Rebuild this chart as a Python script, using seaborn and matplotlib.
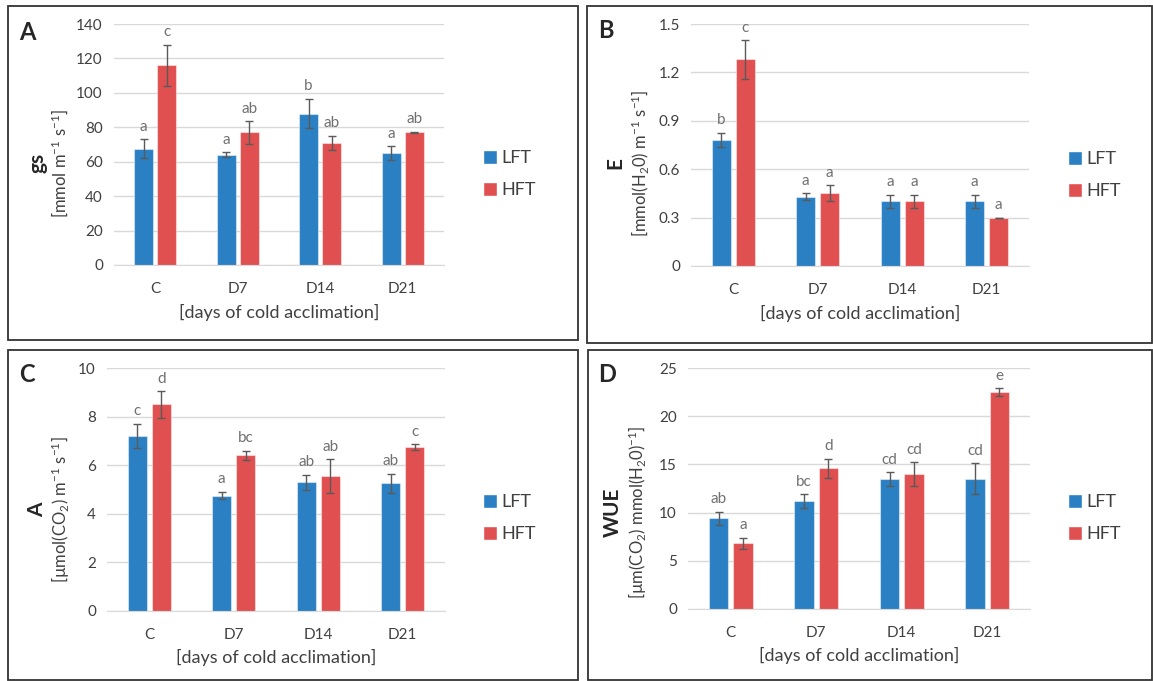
import pandas as pd
import seaborn as sns
import matplotlib.pyplot as plt
from matplotlib.patches import Rectangle
from matplotlib.lines import Line2D

# Data
days = ["C", "D7", "D14", "D21"]
groups = ["LFT", "HFT"]

gs_lft = [67.5, 64, 88, 65]
gs_hft = [116, 77, 71, 77]
gs_lft_err = [5.5, 1.5, 8.5, 4]
gs_hft_err = [12, 6.5, 4, 0.5]
gs_lft_sig = ["a", "a", "b", "a"]
gs_hft_sig = ["c", "ab", "ab", "ab"]

e_lft = [0.78, 0.43, 0.40, 0.40]
e_hft = [1.28, 0.45, 0.40, 0.30]
e_lft_err = [0.045, 0.02, 0.04, 0.04]
e_hft_err = [0.12, 0.05, 0.04, 0.0]
e_lft_sig = ["b", "a", "a", "a"]
e_hft_sig = ["c", "a", "a", "a"]

a_lft = [7.2, 4.75, 5.3, 5.25]
a_hft = [8.5, 6.4, 5.55, 6.75]
a_lft_err = [0.5, 0.15, 0.3, 0.4]
a_hft_err = [0.55, 0.2, 0.7, 0.12]
a_lft_sig = ["c", "a", "ab", "ab"]
a_hft_sig = ["d", "bc", "ab", "c"]

wue_lft = [9.4, 11.2, 13.5, 13.5]
wue_hft = [6.8, 14.6, 14.0, 22.5]
wue_lft_err = [0.7, 0.7, 0.7, 1.6]
wue_hft_err = [0.6, 1.0, 1.2, 0.4]
wue_lft_sig = ["ab", "bc", "cd", "cd"]
wue_hft_sig = ["a", "d", "cd", "e"]

colors = {"LFT": "#2a80c2", "HFT": "#e05050"}

sns.set_style("white")
plt.rcParams['font.family'] = ['Lato', 'DejaVu Sans']
plt.rcParams['mathtext.fontset'] = 'custom'
plt.rcParams['mathtext.rm'] = 'Lato'
plt.rcParams['mathtext.default'] = 'regular'

W, H = 1153, 681
fig = plt.figure(figsize=(W / 100, H / 100), dpi=100)


def px_axes(left, right, top, bottom):
    return fig.add_axes([left / W, 1 - bottom / H, (right - left) / W, (bottom - top) / H])


def panel(ax, lft, hft, lerr, herr, lsig, hsig, ymax, step, title, unit,
          letter, letter_xy, title_x, unit_x, ymid, xlabel_y, leg_xy):
    df = pd.DataFrame({"day": days * 2,
                       "group": ["LFT"] * 4 + ["HFT"] * 4,
                       "value": lft + hft})
    sns.barplot(data=df, x="day", y="value", hue="group", palette=colors,
                saturation=1, width=0.566, gap=0.19, errorbar=None, legend=False, ax=ax,
                edgecolor=(1, 1, 1, 0.45), linewidth=0.8, zorder=2)
    for cont, vals, errs, sigs in zip(ax.containers, [lft, hft], [lerr, herr], [lsig, hsig]):
        xs = [p.get_x() + p.get_width() / 2 for p in cont.patches]
        ax.errorbar(xs, vals, yerr=errs, fmt="none", ecolor="#5a5a5a",
                    elinewidth=1, capsize=3, capthick=1, zorder=3)
        for x, v, e, s in zip(xs, vals, errs, sigs):
            ax.annotate(s, (x, v + e), xytext=(0, 4), textcoords="offset points",
                        ha="center", va="bottom", fontsize=11, color="#707070")
    ax.set_ylim(0, ymax)
    ax.set_xlim(-0.5, 3.5)
    ticks = [i * step for i in range(int(round(ymax / step)) + 1)]
    ax.set_yticks(ticks)
    if step < 1:
        ax.set_yticklabels(["0"] + [f"{t:.1f}" for t in ticks[1:]])
    ax.grid(axis="y", color="#d9d9d9", linewidth=1, zorder=0)
    ax.set_axisbelow(True)
    for s in ["top", "right", "left"]:
        ax.spines[s].set_visible(False)
    ax.spines["bottom"].set_color("#d9d9d9")
    ax.tick_params(axis="both", length=0, labelsize=11, labelcolor="#404040", pad=8)
    ax.tick_params(axis="x", pad=12)
    ax.set_xlabel("")
    ax.set_ylabel("")
    fig.text(letter_xy[0] / W, 1 - letter_xy[1] / H, letter, fontsize=17,
             fontweight="bold", ha="center", va="center")
    fig.text(title_x / W, 1 - ymid / H, title, fontsize=15, fontweight="bold",
             rotation=90, ha="center", va="center")
    fig.text(unit_x / W, 1 - ymid / H, unit, fontsize=12, color="#404040",
             rotation=90, ha="center", va="center")
    axc = ax.get_position()
    fig.text(axc.x0 + axc.width / 2, 1 - xlabel_y / H, "[days of cold acclimation]",
             fontsize=13, color="#404040", ha="center", va="center")
    handles = [Line2D([], [], marker="s", linestyle="none", markersize=10,
                      markerfacecolor=colors[g], markeredgecolor="white", label=g)
               for g in groups]
    fig.legend(handles=handles, loc="center left",
               bbox_to_anchor=(leg_xy[0] / W, 1 - leg_xy[1] / H),
               frameon=False, fontsize=13, handletextpad=0.1, labelspacing=0.9,
               handlelength=1.0, labelcolor="#404040")


# Panel frames
for x0, y0, x1, y1 in [(8, 6, 578, 340), (587, 6, 1152, 343),
                       (8, 350, 578, 680), (588, 350, 1152, 680)]:
    fig.add_artist(Rectangle((x0 / W, 1 - y1 / H), (x1 - x0) / W, (y1 - y0) / H,
                             transform=fig.transFigure, fill=False,
                             edgecolor="#333333", linewidth=1.3))

axA = px_axes(114, 444, 24, 265)
panel(axA, gs_lft, gs_hft, gs_lft_err, gs_hft_err, gs_lft_sig, gs_hft_sig,
      140, 20, "gs", r"[mmol m$^{-1}$ s$^{-1}$]", "A", (27, 32), 37, 60, 163, 312, (465, 174))

axB = px_axes(691, 1029, 24, 266)
panel(axB, e_lft, e_hft, e_lft_err, e_hft_err, e_lft_sig, e_hft_sig,
      1.5, 0.3, "E", r"[mmol(H$_2$0) m$^{-1}$ s$^{-1}$]", "B", (606, 30), 615, 640, 163, 313, (1050, 175))

axC = px_axes(107, 445, 368, 611)
panel(axC, a_lft, a_hft, a_lft_err, a_hft_err, a_lft_sig, a_hft_sig,
      10, 2, "A", r"[µmol(CO$_2$) m$^{-1}$ s$^{-1}$]", "C", (27, 375), 37, 61, 510, 657, (465, 518))

axD = px_axes(688, 1030, 368, 609)
panel(axD, wue_lft, wue_hft, wue_lft_err, wue_hft_err, wue_lft_sig, wue_hft_sig,
      25, 5, "WUE", r"[µm(CO$_2$) mmol(H$_2$0)$^{-1}$]", "D", (607, 375), 613, 638, 512, 655, (1050, 518))

fig.savefig("out.png", dpi=100)
